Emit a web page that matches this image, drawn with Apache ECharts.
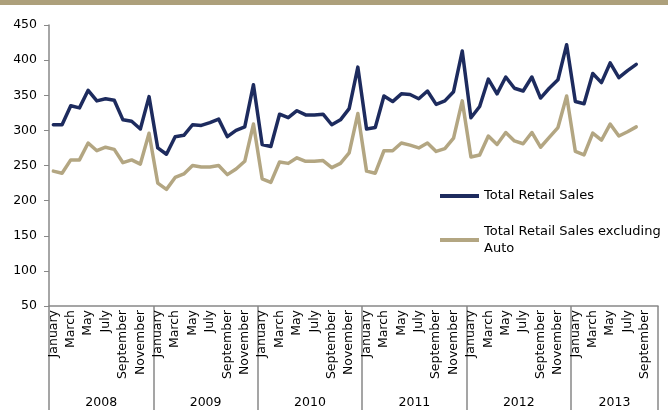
<!DOCTYPE html>
<html>
<head>
<meta charset="utf-8">
<script src="https://cdn.jsdelivr.net/npm/echarts@6/dist/echarts.min.js"></script>
<style>html,body{margin:0;padding:0;background:#fff;}#c{width:668px;height:415px;}</style>
</head>
<body>
<div id="c"></div>
<script>
const years = ['2008', '2009', '2010', '2011', '2012', '2013'];
const monthNames = ['January','February','March','April','May','June','July','August','September','October','November','December'];
const monthsInYear = [12, 12, 12, 12, 12, 10];
const yTicks = { min: 50, max: 450, step: 50 };

const totalRetail = [308, 308, 335, 332, 357, 342, 345, 343, 315, 313, 302, 348,
  275, 266, 291, 293, 308, 307, 311, 316, 291, 300, 305, 365,
  280, 277, 323, 318, 328, 322, 322, 323, 308, 315, 331, 390,
  302, 304, 349, 341, 352, 351, 345, 356, 337, 342, 355, 413,
  318, 334, 373, 352, 376, 360, 356, 376, 346, 360, 372, 422,
  341, 338, 381, 368, 396, 375, 385, 394, null, null];

const exAuto = [242, 239, 258, 258, 282, 271, 276, 273, 254, 258, 252, 296,
  225, 216, 233, 238, 250, 248, 248, 250, 237, 245, 256, 309,
  231, 226, 255, 253, 261, 256, 256, 257, 247, 253, 268, 324,
  242, 239, 271, 271, 282, 279, 275, 282, 270, 274, 289, 342,
  262, 265, 292, 280, 297, 285, 281, 297, 276, 290, 304, 349,
  270, 265, 296, 286, 309, 292, 298, 305, null, null];

const seriesNames = ['Total Retail Sales', 'Total Retail Sales excluding\nAuto'];

// build category lists
const monthCats = [], yearCats = [], yearStart = [], yearMid = [];
let idx = 0;
years.forEach((y, k) => {
  yearStart.push(idx);
  yearMid.push(idx + monthsInYear[k] / 2 - 1);
  for (let m = 0; m < monthsInYear[k]; m++) { monthCats.push(monthNames[m]); yearCats.push(y); idx++; }
});

const NAVY = '#1d2b5e', TAN = '#b3a682', AXIS = '#888888';
const FONT = 'DejaVu Sans';

const chart = echarts.init(document.getElementById('c'), null, { renderer: 'canvas' });
chart.setOption({
  animation: false,
  graphic: [{ type: 'rect', left: 0, top: 0, shape: { width: 668, height: 5 }, style: { fill: '#ada07b' } }],
  grid: { left: 49, right: 10, top: 25, bottom: 109, containLabel: false },
  legend: [
    { data: [{ name: seriesNames[0], icon: 'rect' }], orient: 'vertical', left: 440, top: 187.5, padding: 0,
      itemWidth: 39, itemHeight: 4, itemGap: 0,
      textStyle: { fontFamily: FONT, fontSize: 13, color: '#000', lineHeight: 17 } },
    { data: [{ name: seriesNames[1], icon: 'rect' }], orient: 'vertical', left: 440, top: 214.5, padding: 0,
      itemWidth: 39, itemHeight: 4, itemGap: 0,
      textStyle: { fontFamily: FONT, fontSize: 13, color: '#000', lineHeight: 17, padding: [17, 0, 0, 0] } }
  ],
  xAxis: [
    { type: 'category', data: monthCats, boundaryGap: true, position: 'bottom',
      axisLine: { show: true, lineStyle: { color: AXIS, width: 1.5 } },
      axisTick: { show: false },
      axisLabel: { interval: 1, rotate: 90, margin: 4, fontFamily: FONT, fontSize: 12.5, color: '#000' } },
    { type: 'category', data: yearCats, boundaryGap: true, position: 'bottom', offset: 0,
      axisLine: { show: false },
      axisTick: { show: true, length: 104, interval: (i) => yearStart.indexOf(i) >= 0, lineStyle: { color: AXIS, width: 1.5 } },
      axisLabel: { interval: (i) => yearMid.indexOf(i) >= 0, margin: 90, fontFamily: FONT, fontSize: 12.5, color: '#000',
        padding: [0, 0, 0, 8.7] } }
  ],
  yAxis: {
    type: 'value', min: yTicks.min, max: yTicks.max, interval: yTicks.step,
    axisLine: { show: true, lineStyle: { color: AXIS, width: 1.5 } },
    axisTick: { show: true, length: 5, lineStyle: { color: AXIS } },
    splitLine: { show: false },
    axisLabel: { margin: 12, fontFamily: FONT, fontSize: 12.5, color: '#000' }
  },
  series: [
    { name: seriesNames[0], type: 'line', data: totalRetail, showSymbol: false, color: NAVY,
      lineStyle: { width: 3.5, color: NAVY, join: 'round', cap: 'round' } },
    { name: seriesNames[1], type: 'line', data: exAuto, showSymbol: false, color: TAN,
      lineStyle: { width: 3.5, color: TAN, join: 'round', cap: 'round' } }
  ]
});
</script>
</body>
</html>
